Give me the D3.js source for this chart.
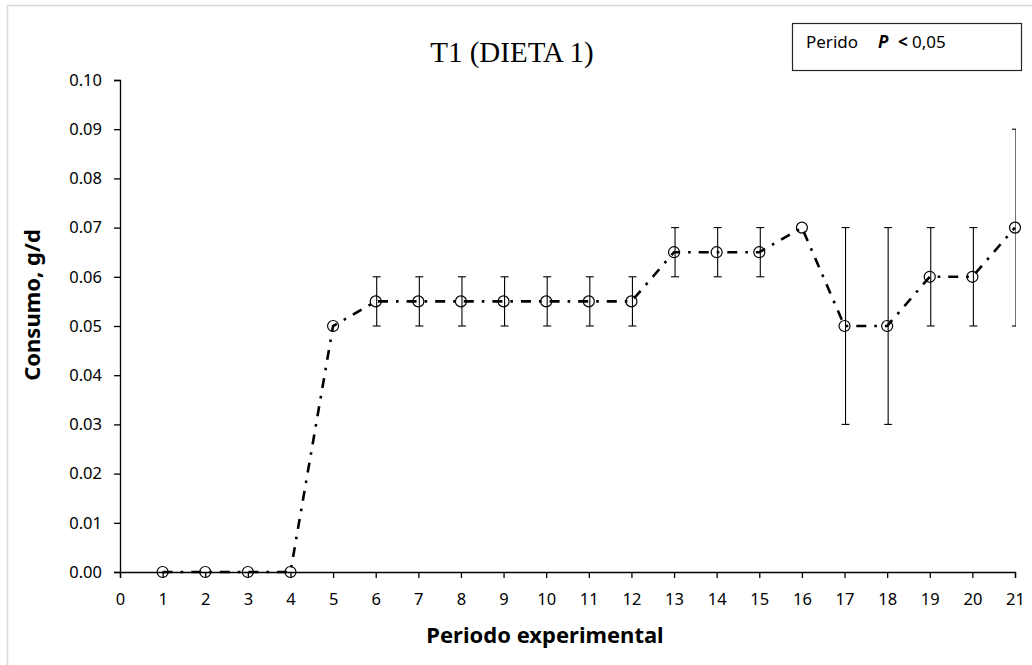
<!DOCTYPE html>
<html>
<head>
<meta charset="utf-8">
<script src="https://cdn.jsdelivr.net/npm/d3@7"></script>
<style>
  html, body { margin: 0; padding: 0; background: #fff; }
  svg { display: block; }
</style>
</head>
<body>
<svg id="chart" width="1032" height="665"></svg>
<script>
// Periods of the feeding trial and mean intake (g/d) for diet 1
const periodos = [1, 2, 3, 4, 5, 6, 7, 8, 9, 10, 11, 12, 13, 14, 15, 16, 17, 18, 19, 20, 21];
const consumo = [0, 0, 0, 0, 0.05, 0.055, 0.055, 0.055, 0.055, 0.055, 0.055, 0.055,
                 0.065, 0.065, 0.065, 0.07, 0.05, 0.05, 0.06, 0.06, 0.07];
// Half-width of the error bar for each period (null = no bar)
const errores = [null, null, null, null, null, 0.005, 0.005, 0.005, 0.005, 0.005, 0.005, 0.005,
                 0.005, 0.005, 0.005, null, 0.02, 0.02, 0.01, 0.01, 0.02];
const xTicks = [0, 1, 2, 3, 4, 5, 6, 7, 8, 9, 10, 11, 12, 13, 14, 15, 16, 17, 18, 19, 20, 21];
const yTicks = [0, 0.01, 0.02, 0.03, 0.04, 0.05, 0.06, 0.07, 0.08, 0.09, 0.10];

const svg = d3.select("#chart");
const W = 1032, H = 665;

// outer chart frame
svg.append("rect")
  .attr("x", 7.5).attr("y", 5.5)
  .attr("width", W + 20).attr("height", H + 20)
  .attr("fill", "#fff")
  .attr("stroke", "#d9d9d9")
  .attr("stroke-width", 1.6);

const plot = { left: 120, right: 1015, top: 80, bottom: 572 };

const x = d3.scaleLinear().domain([0, 21]).range([plot.left, plot.right]);
const y = d3.scaleLinear().domain([0, 0.10]).range([plot.bottom, plot.top]);

const tickFont = "'Noto Sans', 'Open Sans', sans-serif";

// y axis
const yAxis = svg.append("g")
  .attr("transform", `translate(${plot.left},0)`)
  .call(d3.axisLeft(y).tickValues(yTicks).tickFormat(d3.format(".2f")).tickSize(6).tickPadding(12));
// x axis
const xAxis = svg.append("g")
  .attr("transform", `translate(0,${plot.bottom})`)
  .call(d3.axisBottom(x).tickValues(xTicks).tickFormat(d3.format("d")).tickSize(6).tickPadding(15));

[yAxis, xAxis].forEach(g => {
  g.select(".domain").attr("stroke", "#000").attr("stroke-width", 1.3);
  g.selectAll(".tick line").attr("stroke", "#000").attr("stroke-width", 1.3);
  g.selectAll(".tick text")
    .attr("fill", "#000")
    .style("font-family", tickFont)
    .style("font-size", "16.5px");
});

// error bars, clipped to the plot area
svg.append("clipPath").attr("id", "plotClip")
  .append("rect")
  .attr("x", plot.left).attr("y", 0)
  .attr("width", plot.right - plot.left + 1).attr("height", H);

const pts = periodos.map((p, i) => ({ p, v: consumo[i], e: errores[i] }));

const eb = svg.append("g").attr("clip-path", "url(#plotClip)")
  .attr("stroke", "#000").attr("stroke-width", 1.1).attr("fill", "none");
const capW = 4;
pts.filter(d => d.e !== null).forEach(d => {
  const cx = x(d.p) + 1;
  const y1 = y(d.v - d.e), y2 = y(d.v + d.e);
  eb.append("line").attr("x1", cx).attr("x2", cx).attr("y1", y1).attr("y2", y2);
  eb.append("line").attr("x1", cx - capW).attr("x2", cx + capW).attr("y1", y1).attr("y2", y1);
  eb.append("line").attr("x1", cx - capW).attr("x2", cx + capW).attr("y1", y2).attr("y2", y2);
});

// dash-dot series line
const line = d3.line().x(d => x(d.p)).y(d => y(d.v));
svg.append("path")
  .datum(pts)
  .attr("d", line)
  .attr("fill", "none")
  .attr("stroke", "#000")
  .attr("stroke-width", 2.6)
  .attr("stroke-dasharray", "10,8,2.6,8");

// hollow circle markers
svg.append("g").selectAll("circle")
  .data(pts)
  .join("circle")
  .attr("cx", d => x(d.p))
  .attr("cy", d => y(d.v))
  .attr("r", 5.5)
  .attr("fill", "none")
  .attr("stroke", "#000")
  .attr("stroke-width", 1.2);

// title
svg.append("text")
  .attr("x", 512).attr("y", 62)
  .attr("text-anchor", "middle")
  .style("font-family", "'Liberation Serif', 'Times New Roman', serif")
  .style("font-size", "29px")
  .attr("fill", "#000")
  .text("T1 (DIETA 1)");

// axis titles
svg.append("text")
  .attr("x", 545).attr("y", 643)
  .attr("text-anchor", "middle")
  .style("font-family", tickFont)
  .style("font-size", "22px")
  .style("font-weight", "bold")
  .attr("fill", "#000")
  .text("Periodo experimental");

svg.append("text")
  .attr("transform", "translate(40,305) rotate(-90)")
  .attr("text-anchor", "middle")
  .style("font-family", tickFont)
  .style("font-size", "22px")
  .style("font-weight", "bold")
  .attr("fill", "#000")
  .text("Consumo, g/d");

// significance note box
svg.append("rect")
  .attr("x", 792.5).attr("y", 23.5)
  .attr("width", 229).attr("height", 47)
  .attr("fill", "#fff")
  .attr("stroke", "#262626")
  .attr("stroke-width", 1.2);

const note = svg.append("text")
  .attr("y", 48)
  .style("font-family", tickFont)
  .style("font-size", "17px")
  .attr("fill", "#000");
note.append("tspan").attr("x", 806).text("Perido");
note.append("tspan").attr("x", 878).style("font-weight", "bold").style("font-style", "italic").text("P");
note.append("tspan").attr("x", 898).style("font-weight", "bold").text("<");
note.append("tspan").attr("x", 912).text("0,05");
</script>
</body>
</html>
